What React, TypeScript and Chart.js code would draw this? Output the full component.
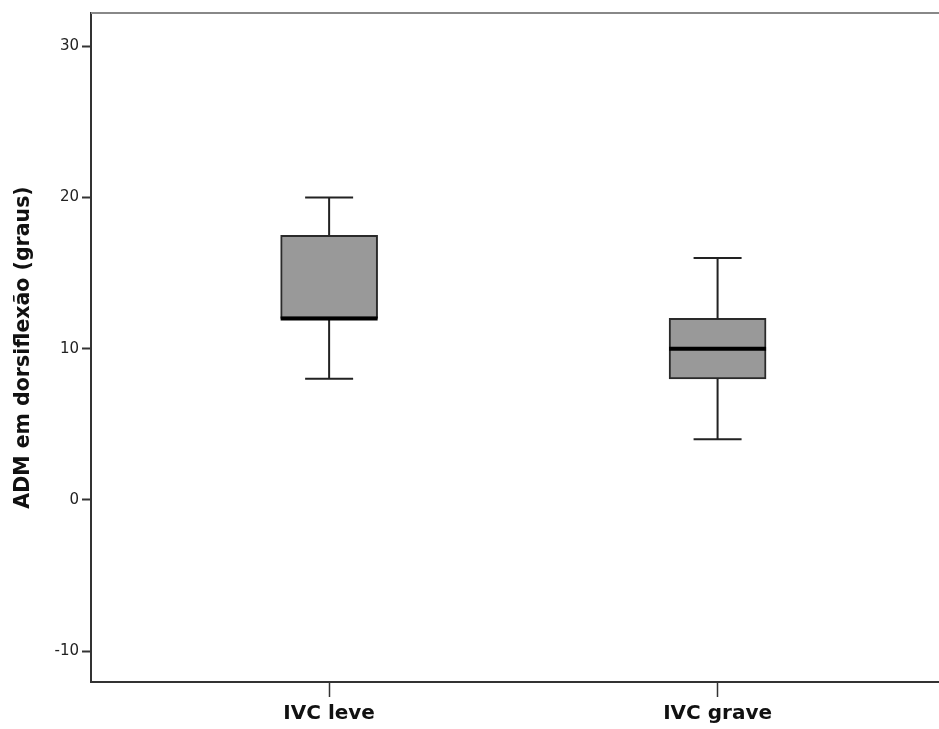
import React, { useEffect, useRef } from "react";
import { Chart, registerables } from "chart.js";

Chart.register(...registerables);

const categories = ["IVC leve", "IVC grave"];
const categoryPositions = [1, 2];
const whiskerLow = [8, 4];
const q1 = [12, 8];
const median = [12, 10];
const q3 = [17.5, 12];
const whiskerHigh = [20, 16];
const yTickValues = [-10, 0, 10, 20, 30];
const yTitle = "ADM em dorsiflexão (graus)";

const FONT = "'DejaVu Sans', sans-serif";

const boxPlugin = {
  id: "boxWhiskers",
  afterDatasetsDraw(chart: any) {
    const ctx = chart.ctx;
    const xs = chart.scales.x;
    const ys = chart.scales.y;
    ctx.save();
    categoryPositions.forEach((pos, i) => {
      const x = xs.getPixelForValue(pos);
      const capHalf = 24;
      const boxHalf = 48.5;
      ctx.strokeStyle = "#222";
      ctx.lineWidth = 2;
      ctx.lineCap = "butt";
      ctx.beginPath();
      ctx.moveTo(x, ys.getPixelForValue(whiskerHigh[i]));
      ctx.lineTo(x, ys.getPixelForValue(q3[i]));
      ctx.moveTo(x, ys.getPixelForValue(q1[i]));
      ctx.lineTo(x, ys.getPixelForValue(whiskerLow[i]));
      ctx.moveTo(x - capHalf, ys.getPixelForValue(whiskerHigh[i]));
      ctx.lineTo(x + capHalf, ys.getPixelForValue(whiskerHigh[i]));
      ctx.moveTo(x - capHalf, ys.getPixelForValue(whiskerLow[i]));
      ctx.lineTo(x + capHalf, ys.getPixelForValue(whiskerLow[i]));
      ctx.stroke();
      ctx.strokeStyle = "#000";
      ctx.lineWidth = 4;
      ctx.beginPath();
      const my = ys.getPixelForValue(median[i]);
      ctx.moveTo(x - boxHalf, my);
      ctx.lineTo(x + boxHalf, my);
      ctx.stroke();
    });
    const a = chart.chartArea;
    ctx.strokeStyle = "#888";
    ctx.lineWidth = 2;
    ctx.beginPath();
    ctx.moveTo(a.left, a.top);
    ctx.lineTo(a.right, a.top);
    ctx.stroke();
    ctx.restore();
  },
};

export default function App() {
  const ref = useRef<HTMLCanvasElement>(null);
  useEffect(() => {
    document.body.style.margin = "0";
    const chart = new Chart(ref.current!, {
      type: "bar",
      data: {
        datasets: [
          {
            data: categoryPositions.map((p, i) => ({ x: p, y: [q1[i], q3[i]] })) as any,
            backgroundColor: "#999999",
            borderColor: "#2a2a2a",
            borderWidth: 2,
            borderSkipped: false,
            barThickness: 97,
          },
        ],
      },
      options: {
        animation: false,
        responsive: false,
        maintainAspectRatio: false,
        layout: { padding: { top: 13, left: 0, right: 0, bottom: 0 } },
        plugins: { legend: { display: false }, tooltip: { enabled: false } },
        scales: {
          x: {
            type: "linear",
            offset: false,
            min: 0.387,
            max: 2.57,
            afterBuildTicks: (s: any) => {
              s.ticks = categoryPositions.map((v) => ({ value: v }));
            },
            afterFit: (s: any) => {
              s.height = 47;
            },
            ticks: {
              callback: (v: any) => categories[categoryPositions.indexOf(Number(v))] ?? "",
              font: { family: FONT, size: 20, weight: "bold" },
              color: "#111",
              padding: 5,
              maxRotation: 0,
              autoSkip: false,
            },
            grid: { offset: false, drawOnChartArea: false, drawTicks: true, tickLength: 15, tickColor: "#333", tickWidth: 1.5 },
            border: { display: true, color: "#333", width: 2 },
          },
          y: {
            type: "linear",
            min: -12.05,
            max: 32.2,
            afterBuildTicks: (s: any) => {
              s.ticks = yTickValues.map((v) => ({ value: v }));
            },
            afterFit: (s: any) => {
              s.width = 91;
            },
            ticks: {
              font: { family: FONT, size: 15 },
              color: "#222",
              padding: 3,
            },
            grid: { drawOnChartArea: false, drawTicks: true, tickLength: 9, tickColor: "#333", tickWidth: 2 },
            border: { display: true, color: "#333", width: 2 },
            title: {
              display: true,
              text: yTitle,
              font: { family: FONT, size: 20.5, weight: "bold" },
              color: "#111",
              padding: { top: 11, bottom: 0 },
            },
          },
        },
      },
      plugins: [boxPlugin],
    });
    return () => chart.destroy();
  }, []);
  return (
    <div style={{ position: "absolute", left: 0, top: 0, width: 939, height: 729, background: "#fff" }}>
      <canvas ref={ref} width={939} height={729} style={{ width: 939, height: 729 }} />
    </div>
  );
}
